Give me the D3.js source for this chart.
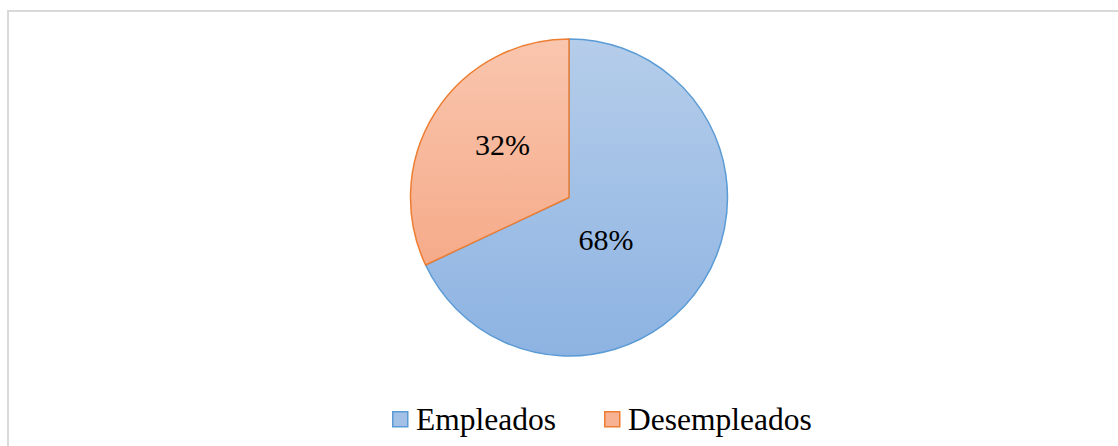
<!DOCTYPE html>
<html>
<head>
<meta charset="utf-8">
<title>Empleados</title>
<script src="https://d3js.org/d3.v7.min.js"></script>
<style>
  body { margin: 0; background: #fff; }
</style>
</head>
<body>
<script>
var categories = ["Empleados", "Desempleados"];
var values = [68, 32];
var labels = ["68%", "32%"];

var width = 1118, height = 446;
var cx = 569, cy = 197.5, r = 158.5;
var serif = "'Liberation Serif'";

// label placement (Excel best-fit style): radius fraction and angular shift in degrees
var labelRadius = [0.353, 0.536];
var labelShift = [16.2, 6];

var svg = d3.select("body").append("svg")
    .attr("width", width)
    .attr("height", height);

var defs = svg.append("defs");
var grads = [["gradBlue", "#b5cdea", "#8db3e2"], ["gradOrange", "#f9c6ae", "#f4a07b"]];
grads.forEach(function(g) {
    var lg = defs.append("linearGradient").attr("id", g[0])
        .attr("gradientUnits", "userSpaceOnUse")
        .attr("x1", 0).attr("y1", -r).attr("x2", 0).attr("y2", r);
    lg.append("stop").attr("offset", "0%").attr("stop-color", g[1]);
    lg.append("stop").attr("offset", "100%").attr("stop-color", g[2]);
});

var fills = d3.scaleOrdinal().domain(categories).range(["url(#gradBlue)", "url(#gradOrange)"]);
var strokes = d3.scaleOrdinal().domain(categories).range(["#5b9bd5", "#ed7d31"]);
var legendFills = d3.scaleOrdinal().domain(categories).range(["#a3c0e6", "#f6b293"]);

// chart frame
svg.append("rect")
    .attr("x", 8).attr("y", 11)
    .attr("width", 1118).attr("height", 460)
    .attr("fill", "none")
    .attr("stroke", "#d9d9d9")
    .attr("stroke-width", 2);

var data = categories.map(function(c, i) {
    return { name: c, value: values[i], label: labels[i], lr: labelRadius[i], ls: labelShift[i] };
});

var pie = d3.pie().sort(null).value(function(d) { return d.value; });
var arc = d3.arc().innerRadius(0).outerRadius(r);

var g = svg.append("g").attr("transform", "translate(" + cx + "," + cy + ")");

var arcs = pie(data);

g.selectAll("path.slice")
    .data(arcs)
    .enter()
    .append("path")
    .attr("class", "slice")
    .attr("d", arc)
    .attr("fill", function(d) { return fills(d.data.name); })
    .attr("stroke", function(d) { return strokes(d.data.name); })
    .attr("stroke-width", 1.5)
    .attr("stroke-linejoin", "round");

g.selectAll("text.lbl")
    .data(arcs)
    .enter()
    .append("text")
    .attr("class", "lbl")
    .attr("transform", function(d) {
        var a = (d.startAngle + d.endAngle) / 2 + d.data.ls * Math.PI / 180;
        var rr = r * d.data.lr;
        return "translate(" + (Math.sin(a) * rr) + "," + (-Math.cos(a) * rr) + ")";
    })
    .attr("text-anchor", "middle")
    .attr("dy", "0.35em")
    .style("font-family", serif)
    .style("font-size", "30px")
    .style("fill", "#000")
    .text(function(d) { return d.data.label; });

// legend
var legendX = [392, 604];
var legend = svg.selectAll("g.legend")
    .data(categories)
    .enter()
    .append("g")
    .attr("class", "legend")
    .attr("transform", function(d, i) { return "translate(" + legendX[i] + ",411)"; });

legend.append("rect")
    .attr("x", 0.75).attr("y", 0.75)
    .attr("width", 15).attr("height", 15)
    .attr("fill", function(d) { return legendFills(d); })
    .attr("stroke", function(d) { return strokes(d); })
    .attr("stroke-width", 1.5);

legend.append("text")
    .attr("x", 24)
    .attr("y", 19)
    .style("font-family", serif)
    .style("font-size", "31.5px")
    .style("fill", "#000")
    .text(function(d) { return d; });
</script>
</body>
</html>
